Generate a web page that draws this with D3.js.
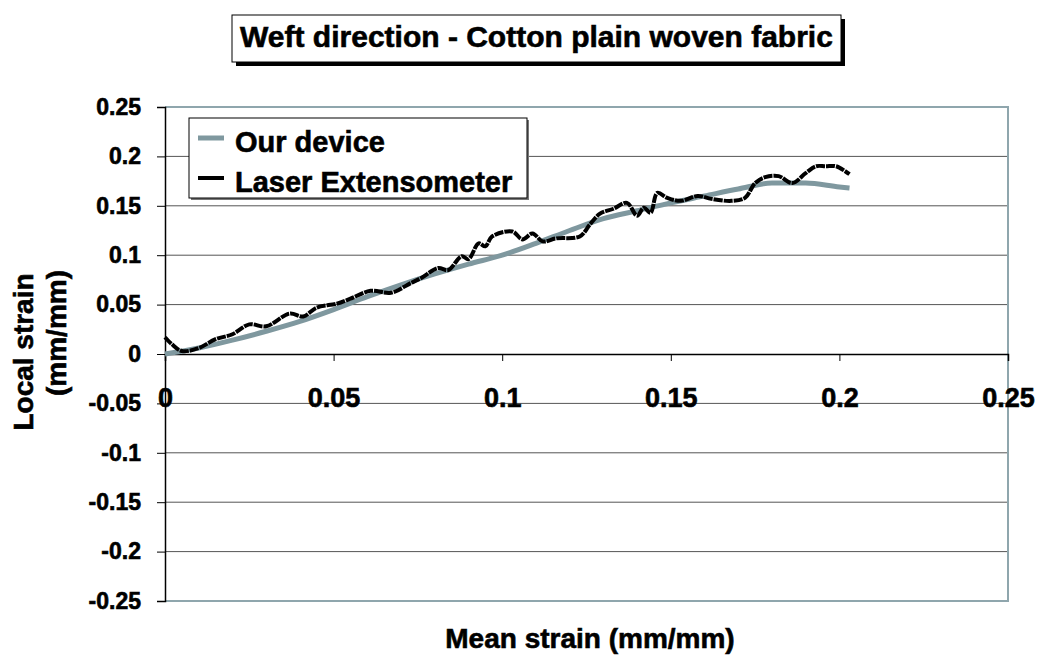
<!DOCTYPE html>
<meta charset="utf-8">
<style>
body { margin: 0; background: #fff; }
text { font-family: "Liberation Sans", Arial, sans-serif; font-weight: bold; fill: #000; stroke: #000; stroke-width: 0.6px; }
.grid line { stroke: #555; stroke-width: 1; }
</style>
<body>
<script src="https://d3js.org/d3.v7.min.js"></script>
<script>
// values
let deviceX = [0, 0.01, 0.02, 0.03, 0.04, 0.05, 0.06, 0.07, 0.08, 0.09, 0.10, 0.11, 0.12, 0.13, 0.14, 0.15, 0.16, 0.17, 0.18, 0.19, 0.20, 0.203]
let deviceY = [0, 0.006, 0.014, 0.023, 0.033, 0.045, 0.058, 0.070, 0.081, 0.091, 0.100, 0.112, 0.125, 0.137, 0.145, 0.153, 0.160, 0.167, 0.173, 0.173, 0.169, 0.168]

let laserX = [0, 0.002, 0.005, 0.010, 0.015, 0.020, 0.025, 0.030, 0.037, 0.041, 0.045, 0.051, 0.055, 0.061, 0.067, 0.073, 0.076, 0.081, 0.084, 0.088, 0.090, 0.093, 0.095, 0.097, 0.103, 0.106, 0.109, 0.112, 0.116, 0.123, 0.126, 0.129, 0.133, 0.137, 0.140, 0.142, 0.144, 0.146, 0.149, 0.153, 0.158, 0.162, 0.168, 0.172, 0.175, 0.178, 0.182, 0.186, 0.190, 0.193, 0.196, 0.199, 0.203]
let laserY = [0.017, 0.010, 0.003, 0.006, 0.015, 0.020, 0.030, 0.028, 0.041, 0.038, 0.047, 0.051, 0.056, 0.064, 0.062, 0.072, 0.077, 0.087, 0.085, 0.099, 0.096, 0.112, 0.109, 0.119, 0.124, 0.116, 0.122, 0.114, 0.117, 0.119, 0.131, 0.142, 0.147, 0.153, 0.140, 0.148, 0.143, 0.163, 0.158, 0.155, 0.160, 0.157, 0.155, 0.158, 0.173, 0.179, 0.180, 0.173, 0.183, 0.190, 0.190, 0.190, 0.182]

let xTicks = [0, 0.05, 0.1, 0.15, 0.2, 0.25]
let yTicks = [0.25, 0.2, 0.15, 0.1, 0.05, 0, -0.05, -0.1, -0.15, -0.2, -0.25]
let seriesNames = ["Our device", "Laser Extensometer"]

var width = 1049, height = 661
var pLeft = 165, pRight = 1008, pTop = 107, pBottom = 601
var deviceColor = "#7f989f", borderColor = "#8fa6ad"

var x = d3.scaleLinear().domain([0, 0.25]).range([pLeft, pRight])
var y = d3.scaleLinear().domain([-0.25, 0.25]).range([pBottom, pTop])

var svg = d3.select("body").append("svg")
    .attr("width", width)
    .attr("height", height)

// horizontal gridlines
svg.append("g")
    .attr("class", "grid")
  .selectAll("line")
    .data(yTicks.filter(d => d !== 0 && Math.abs(d) < 0.25))
  .enter().append("line")
    .attr("x1", pLeft).attr("x2", pRight)
    .attr("y1", d => y(d)).attr("y2", d => y(d))

// plot border (top, right, bottom)
svg.append("path")
    .attr("d", `M${pLeft},${pTop}H${pRight}V${pBottom}H${pLeft}`)
    .attr("fill", "none")
    .attr("stroke", borderColor)
    .attr("stroke-width", 2)

// y axis
var yAxis = svg.append("g")
    .attr("transform", `translate(${pLeft},0)`)
    .call(d3.axisLeft(y).tickValues(yTicks).tickSize(8).tickFormat(d => String(+d.toFixed(2))))
yAxis.select(".domain").attr("stroke", "#000").attr("stroke-width", 1.5)
yAxis.selectAll(".tick line").attr("stroke", "#000")
yAxis.selectAll(".tick text")
    .attr("x", -24)
    .style("font-size", "23px")
    .style("font-family", "Liberation Sans, Arial, sans-serif")
    .style("font-weight", "bold")

// x axis at y = 0
var xAxis = svg.append("g")
    .attr("transform", `translate(0,${y(0)})`)
    .call(d3.axisBottom(x).tickValues(xTicks).tickSize(7).tickFormat(d => String(+d.toFixed(2))))
xAxis.select(".domain").attr("stroke", "#000").attr("stroke-width", 1.5)
xAxis.selectAll(".tick line").attr("stroke", "#000")
xAxis.selectAll(".tick text")
    .attr("y", 34)
    .style("font-size", "27px")
    .style("font-family", "Liberation Sans, Arial, sans-serif")
    .style("font-weight", "bold")

// series
var line = d3.line()
    .x(d => x(d[0]))
    .y(d => y(d[1]))

svg.append("path")
    .datum(deviceX.map((v, i) => [v, deviceY[i]]))
    .attr("d", line.curve(d3.curveMonotoneX))
    .attr("fill", "none")
    .attr("stroke", deviceColor)
    .attr("stroke-width", 5)

svg.append("path")
    .datum(laserX.map((v, i) => [v, laserY[i]]))
    .attr("d", line.curve(d3.curveCatmullRom))
    .attr("fill", "none")
    .attr("stroke", "#000")
    .attr("stroke-width", 4)
    .attr("stroke-linejoin", "round")
    .attr("stroke-dasharray", "9,1")

// title box with shadow
var tb = { x: 232, y: 15, w: 609, h: 47 }
svg.append("rect")
    .attr("x", tb.x + 4).attr("y", tb.y + 4).attr("width", tb.w).attr("height", tb.h)
    .attr("fill", "#000")
svg.append("rect")
    .attr("x", tb.x).attr("y", tb.y).attr("width", tb.w).attr("height", tb.h)
    .attr("fill", "#fff").attr("stroke", "#000").attr("stroke-width", 1)
svg.append("text")
    .attr("x", tb.x + tb.w / 2).attr("y", 47)
    .attr("text-anchor", "middle")
    .style("font-size", "30px")
    .text("Weft direction - Cotton plain woven fabric")

// legend box with shadow
var lb = { x: 189, y: 118, w: 338, h: 80 }
svg.append("rect")
    .attr("x", lb.x + 2).attr("y", lb.y + 2).attr("width", lb.w).attr("height", lb.h)
    .attr("fill", "#777")
svg.append("rect")
    .attr("x", lb.x).attr("y", lb.y).attr("width", lb.w).attr("height", lb.h)
    .attr("fill", "#fff").attr("stroke", "#000").attr("stroke-width", 1)
var legend = svg.append("g")
  .selectAll("g")
    .data(seriesNames)
  .enter().append("g")
    .attr("transform", (d, i) => `translate(${lb.x + 9},${lb.y + 20 + i * 40})`)
legend.append("line")
    .attr("x1", 0).attr("x2", 26)
    .attr("stroke", (d, i) => i === 0 ? deviceColor : "#000")
    .attr("stroke-width", (d, i) => i === 0 ? 5 : 4)
legend.append("text")
    .attr("x", 37).attr("y", 14)
    .style("font-size", "29px")
    .text(d => d)

// axis titles
svg.append("text")
    .attr("x", 590).attr("y", 648)
    .attr("text-anchor", "middle")
    .style("font-size", "28px")
    .text("Mean strain (mm/mm)")

svg.append("text")
    .attr("transform", `translate(33,352) rotate(-90)`)
    .attr("text-anchor", "middle")
    .style("font-size", "28px")
    .text("Local strain")
svg.append("text")
    .attr("transform", `translate(66,333) rotate(-90)`)
    .attr("text-anchor", "middle")
    .style("font-size", "28px")
    .text("(mm/mm)")
</script>
</body>
